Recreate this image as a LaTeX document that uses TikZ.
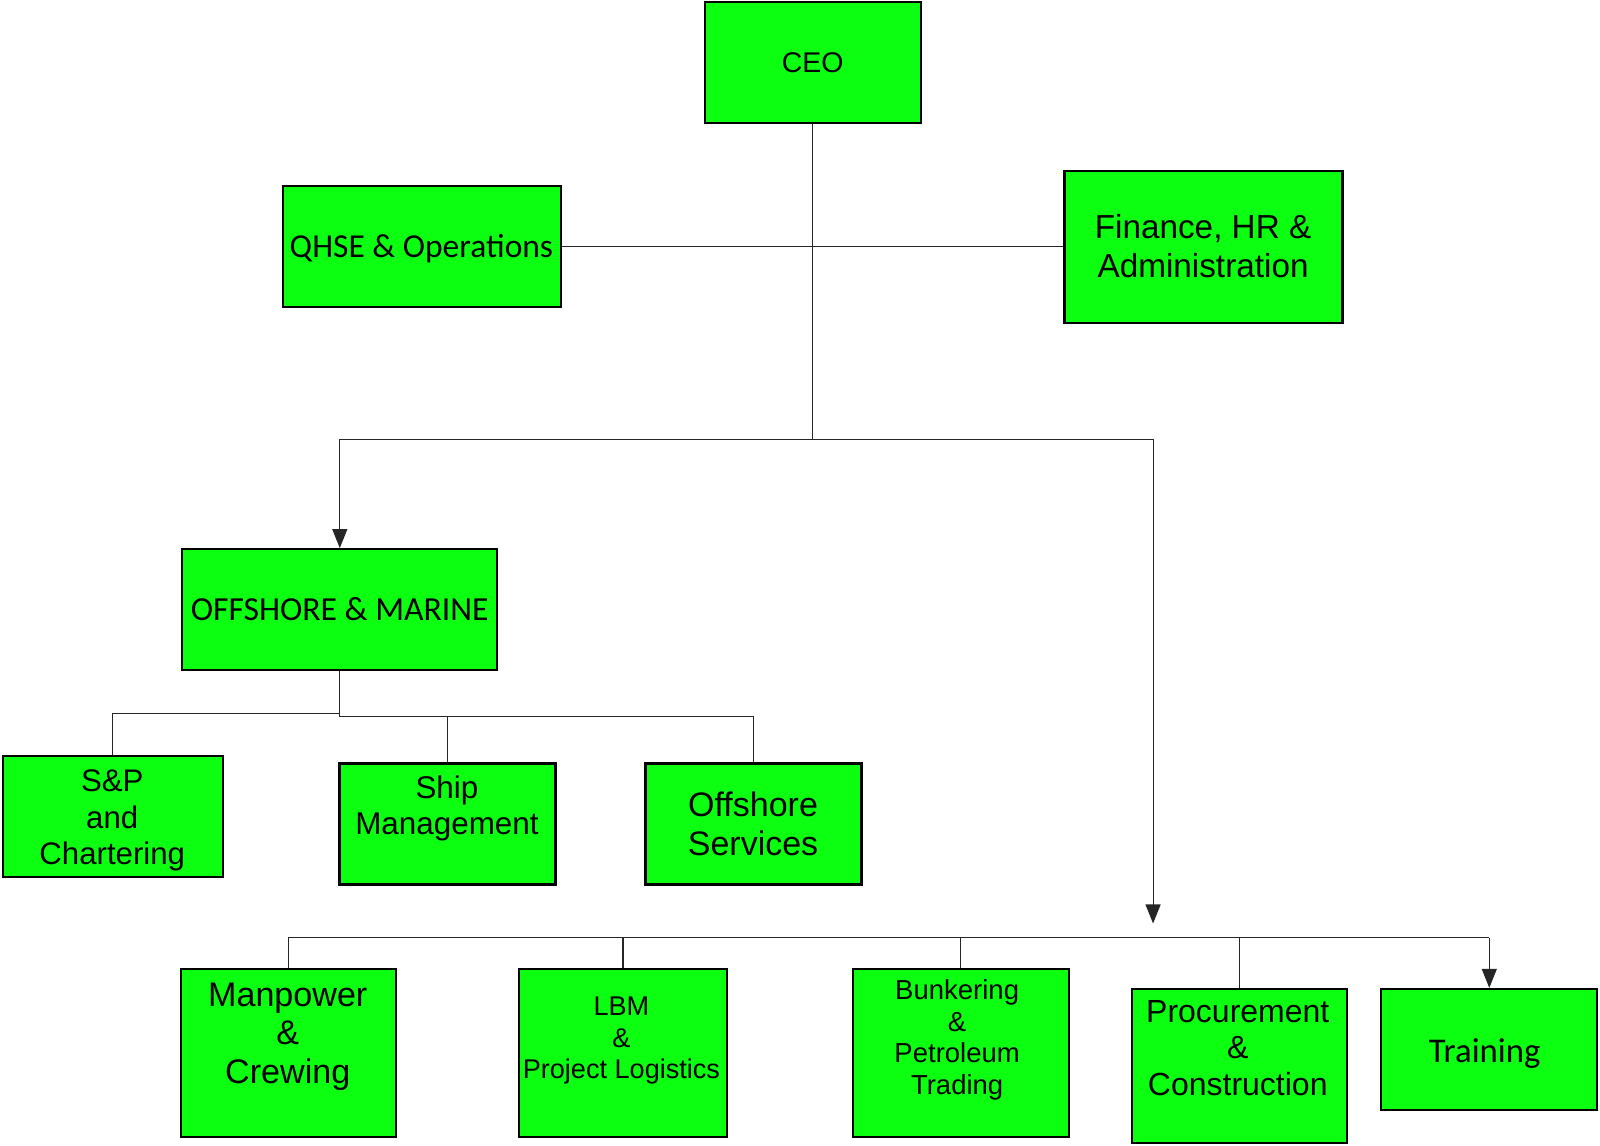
\documentclass[tikz,border=0pt]{standalone}
\usepackage{fontspec}
\setmainfont{Liberation Sans}
\newfontfamily\calfont{Carlito}
\usepackage{tikz}
\usetikzlibrary{arrows.meta}
\usetikzlibrary{positioning}
\definecolor{unitgreen}{RGB}{12,255,16}
\tikzstyle{unit_box}=[draw=black, fill=unitgreen, line width=2.2pt, inner sep=0pt]
\tikzstyle{unit_text}=[align=center, inner sep=0pt, text=black]
\tikzstyle{link}=[draw=black!85, line width=1.1pt]
\tikzstyle{link_arrow}=[link, -{Triangle[width=15pt,length=19pt]}]

\begin{document}
\begin{tikzpicture}[x=1.0204pt, y=-1.0204pt]
\useasboundingbox (0,0) rectangle (1568,1123);
% boxes
\node[unit_box, minimum width=216, minimum height=121] (ceo) at (796.5,61.5){};
\node[unit_box, minimum width=278, minimum height=121] (qhse) at (413.5,241.5){};
\node[unit_box, minimum width=278, minimum height=152] (fin) at (1179.5,242){};
\node[unit_box, minimum width=315, minimum height=121] (om) at (333,597.5){};
\node[unit_box, minimum width=220, minimum height=121] (sp) at (110.5,800.5){};
\node[unit_box, minimum width=216, minimum height=121] (ship) at (438.5,807.5){};
\node[unit_box, minimum width=216, minimum height=121] (offs) at (738.5,807.5){};
\node[unit_box, minimum width=215, minimum height=168] (mp) at (283,1032){};
\node[unit_box, minimum width=208, minimum height=168] (lbm) at (610.5,1032){};
\node[unit_box, minimum width=216, minimum height=168] (bunk) at (941.5,1032){};
\node[unit_box, minimum width=215, minimum height=154] (proc) at (1215,1045){};
\node[unit_box, minimum width=216, minimum height=121] (train) at (1459.5,1028.5){};
% texts
\node[unit_text, font=\fontsize{28.5}{34}\selectfont] (ceo_t) at (796.5,61){CEO};
\node[unit_text, font=\calfont\fontsize{33.5}{39}\selectfont] (qhse_t) at (413,244){QHSE \& Operations};
\node[unit_text, font=\fontsize{33.3}{39.3}\selectfont] (fin_t) at (1179,241){Finance, HR \&\\Administration};
\node[unit_text, font=\calfont\fontsize{33.7}{39}\selectfont] (om_t) at (333,597){OFFSHORE \& MARINE};
\node[unit_text, font=\fontsize{31.2}{36.7}\selectfont] (sp_t) at (110,804){S\&P\\and\\Chartering};
\node[unit_text, font=\fontsize{31.4}{35.7}\selectfont] (ship_t) at (438,792.5){Ship\\Management};
\node[unit_text, font=\fontsize{34}{38.8}\selectfont] (offs_t) at (738,807){Offshore\\Services};
\node[unit_text, font=\fontsize{34.1}{38.8}\selectfont] (mp_t) at (282,1016){Manpower\\\&\\Crewing};
\node[unit_text, font=\fontsize{27.1}{31.6}\selectfont] (lbm_t) at (609,1020){LBM\\\&\\Project Logistics};
\node[unit_text, font=\fontsize{27.5}{31.6}\selectfont] (bunk_t) at (938,1019){Bunkering\\\&\\Petroleum\\Trading};
\node[unit_text, font=\fontsize{32}{36.2}\selectfont] (proc_t) at (1213,1027){Procurement\\\&\\Construction};
\node[unit_text, font=\calfont\fontsize{34.7}{39}\selectfont] (train_t) at (1455,1032){Training};
% junctions
\coordinate (ceo_split) at (796.5,431);
\coordinate (div_tip) at (1130,905);
\coordinate (om_split) at (333,699);
\coordinate (om_bus) at (333,702);
\coordinate (div_bus) at (283,919);
% connectors
\draw[link] (qhse.east) -- (qhse.east -| fin.west);
\draw[link] (ceo.south) -- (ceo_split);
\draw[link_arrow] (ceo_split) -| (om.north);
\draw[link_arrow] (ceo_split) -| (div_tip);
\draw[link] (om.south) -- (om_split) -| (sp.north);
\draw[link] (om_split) -- (om_bus) -| (ship.north);
\draw[link] (om_bus) -| (offs.north);
\draw[link] (mp.north) -- (div_bus) -- (div_bus -| train.north);
\draw[link] (lbm.north) -- (lbm.north |- div_bus);
\draw[link] (bunk.north) -- (bunk.north |- div_bus);
\draw[link] (proc.north) -- (proc.north |- div_bus);
\draw[link_arrow] (div_bus -| train.north) -- (train.north);
\end{tikzpicture}
\end{document}
